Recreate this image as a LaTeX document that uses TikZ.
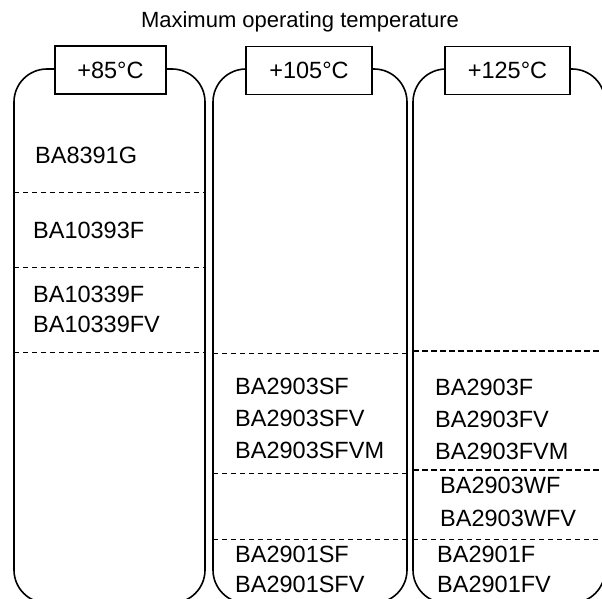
\documentclass[tikz,border=0pt]{standalone}
\usepackage{fontspec}
\setmainfont{Liberation Sans}
\begin{document}
\begin{tikzpicture}[x=1pt,y=-1pt,
  colbox/.style={draw,line width=1.6pt,rounded corners=33pt,inner sep=0pt,minimum height=534pt},
  headbox/.style={draw,fill=white,line width=1.5pt,inner sep=0pt,minimum height=48pt,font=\fontsize{23.5}{28}\selectfont},
  part/.style={anchor=base west,inner sep=0pt,font=\fontsize{23.5}{28}\selectfont},
  sep/.style={line width=0.9pt,dash pattern=on 5pt off 4pt},
  sepbold/.style={line width=1.5pt,dash pattern=on 6pt off 3pt}]
\useasboundingbox (0,0) rectangle (602,599);
\clip (0,0) rectangle (602,599);
\node[anchor=base,inner sep=0pt,font=\fontsize{22}{26}\selectfont] (title) at (300,28) {Maximum operating temperature};
% columns
\node[colbox,minimum width=191pt] (c1) at (109.5,336) {};
\node[colbox,minimum width=194pt] (c2) at (310,336) {};
\node[colbox,minimum width=192pt] (c3) at (509,336) {};
% headers
\node[headbox,minimum width=111pt] (h1) at (110.5,70) {+85°C};
\node[headbox,minimum width=126pt] (h2) at (309,70.5) {+105°C};
\node[headbox,minimum width=125pt] (h3) at (507.5,70.5) {+125°C};
% column 1
\node[part] (p1) at (35,163) {BA8391G};
\draw[sep] (14,192) -- (205,192);
\node[part] (p2) at (33,238) {BA10393F};
\draw[sep] (14,267) -- (205,267);
\node[part] (p3) at (33,302) {BA10339F};
\node[part] (p4) at (33,332) {BA10339FV};
\draw[sep] (14,352) -- (205,352);
% column 2
\draw[sep] (213,353) -- (407,353);
\node[part] (q1) at (235,394) {BA2903SF};
\node[part] (q2) at (235,426) {BA2903SFV};
\node[part] (q3) at (235,458) {BA2903SFVM};
\draw[sep] (213,473) -- (407,473);
\draw[sep] (213,539) -- (407,539);
\node[part] (q4) at (235,562) {BA2901SF};
\node[part] (q5) at (235,592) {BA2901SFV};
% column 3
\draw[sepbold] (413,351) -- (605,351);
\node[part] (r1) at (435,395) {BA2903F};
\node[part] (r2) at (435,427) {BA2903FV};
\node[part] (r3) at (435,459) {BA2903FVM};
\draw[sepbold] (413,470) -- (605,470);
\node[part] (r4) at (440,493) {BA2903WF};
\node[part] (r5) at (440,526) {BA2903WFV};
\draw[sep] (413,539) -- (605,539);
\node[part] (r6) at (437,562) {BA2901F};
\node[part] (r7) at (437,592) {BA2901FV};
\end{tikzpicture}
\end{document}
